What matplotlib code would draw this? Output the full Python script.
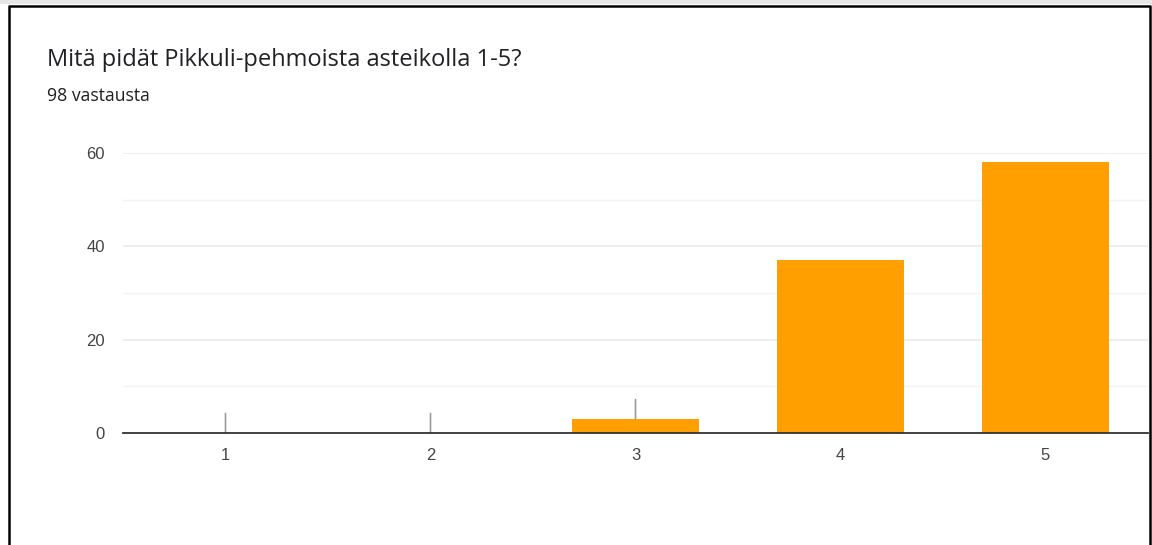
import numpy as np
import matplotlib.pyplot as plt
from matplotlib.lines import Line2D
from matplotlib.patches import Rectangle

# survey answers on a 1-5 scale
categories = ["1", "2", "3", "4", "5"]
counts = [0, 0, 3, 37, 58]
title = "Mitä pidät Pikkuli-pehmoista asteikolla 1-5?"
subtitle = "98 vastausta"

bar_color = "#ffa000"
tick_color = "#444444"

fig = plt.figure(figsize=(11.52, 5.45), dpi=100)
fig.patch.set_facecolor("white")

ax = fig.add_axes([123 / 1152, 112 / 545, 1025 / 1152, 280 / 545])
x = np.arange(1, len(categories) + 1)
ax.bar(x, counts, width=0.62, color=bar_color, zorder=3)

# short stems above each bar (Forms draws these for hidden value labels)
for xi, c in zip(x, counts):
    if c < 10:
        ax.annotate("", xy=(xi, c), xytext=(0, 14), textcoords="offset points",
                    arrowprops=dict(arrowstyle="-", color="#999999", lw=1.2,
                                    shrinkA=0, shrinkB=0), zorder=4)

ax.set_xlim(0.5, 5.5)
ax.set_ylim(0, 60)
ax.set_xticks(x)
ax.set_xticklabels(categories)
ax.set_yticks([0, 20, 40, 60])
ax.set_yticks([10, 30, 50], minor=True)
ax.grid(axis="y", which="major", color="#ebebeb", lw=1.2, zorder=0)
ax.grid(axis="y", which="minor", color="#f3f3f3", lw=1.0, zorder=0)
ax.tick_params(axis="both", which="both", length=0, labelsize=12,
               labelcolor=tick_color, labelfontfamily="Liberation Sans")
ax.tick_params(axis="y", pad=13)
ax.tick_params(axis="x", pad=11)
for side in ["top", "right", "left"]:
    ax.spines[side].set_visible(False)
ax.spines["bottom"].set_color("#333333")
ax.spines["bottom"].set_linewidth(1.3)
ax.spines["bottom"].set_zorder(5)

fig.text(47 / 1152, 1 - 60 / 545, title, fontsize=17, family="Open Sans",
         color="#202124", va="center", ha="left")
fig.text(47 / 1152, 1 - 96 / 545, subtitle, fontsize=12.7, family="Open Sans",
         color="#202124", va="center", ha="left")

# screenshot frame
fig.patches.append(Rectangle((0, 1 - 4 / 545), 1, 4 / 545, transform=fig.transFigure,
                             facecolor="#e6e6e6", edgecolor="none", zorder=0))
fig.lines.append(Line2D([9 / 1152, 9 / 1152, 1150 / 1152, 1150 / 1152],
                        [0, 1 - 5.5 / 545, 1 - 5.5 / 545, 0],
                        transform=fig.transFigure, color="black", lw=1.8))

fig.savefig("out.png", dpi=100)
